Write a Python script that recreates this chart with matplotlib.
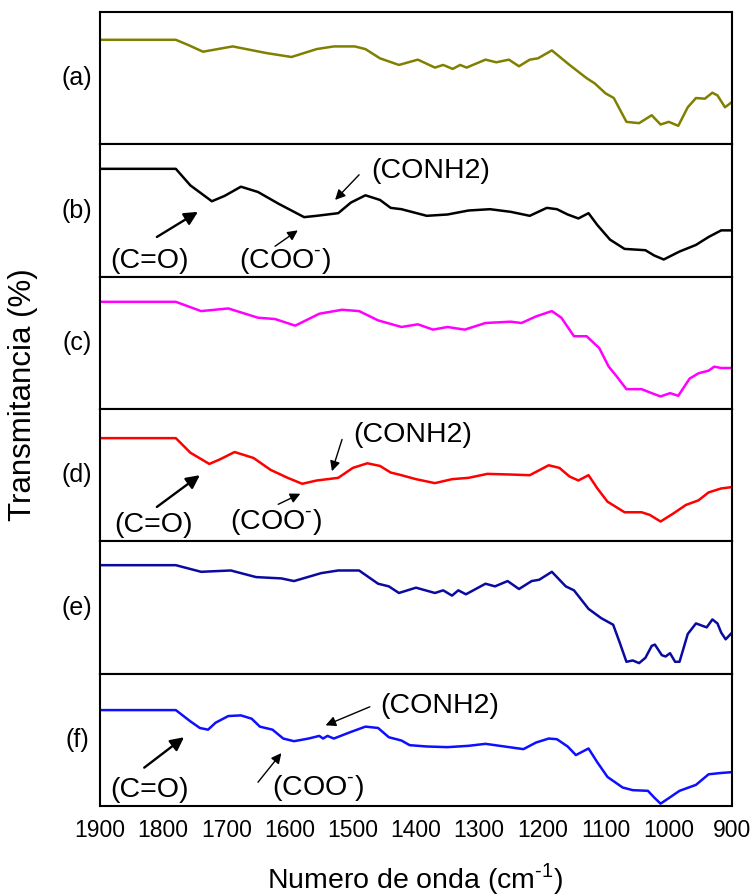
import matplotlib
matplotlib.use("Agg")
import matplotlib.pyplot as plt

plt.rcParams['font.family'] = ['Liberation Sans', 'DejaVu Sans']
plt.rcParams['mathtext.fontset'] = 'custom'
plt.rcParams['mathtext.rm'] = 'Liberation Sans'

# FTIR spectra, transmittance scaled 0-1 inside each panel
wn_a = [1900, 1780, 1760, 1737, 1690, 1637, 1597, 1557, 1530, 1497, 1480, 1457, 1427, 1397, 1370, 1357, 1342, 1330, 1320, 1290,
        1273, 1253, 1237, 1220, 1207, 1185, 1157, 1130, 1117, 1100, 1087, 1067, 1047, 1027, 1013, 1000, 985, 970, 957, 943,
        931, 923, 911, 900]
t_a = [0.79, 0.79, 0.75, 0.70, 0.74, 0.69, 0.66, 0.72, 0.74, 0.74, 0.72, 0.65, 0.60, 0.64, 0.58, 0.60, 0.57, 0.60, 0.58, 0.64,
       0.62, 0.64, 0.59, 0.64, 0.65, 0.71, 0.60, 0.50, 0.46, 0.385, 0.35, 0.17, 0.16, 0.22, 0.15, 0.17, 0.14, 0.28, 0.35, 0.345,
       0.39, 0.37, 0.28, 0.32]

wn_b = [1900, 1780, 1757, 1723, 1703, 1677, 1650, 1617, 1577, 1557, 1523, 1503, 1480, 1457, 1440, 1423, 1383, 1350, 1317, 1283,
        1250, 1220, 1193, 1177, 1160, 1143, 1127, 1113, 1093, 1070, 1037, 1023, 1008, 983, 957, 937, 917, 900]
t_b = [0.815, 0.815, 0.69, 0.57, 0.61, 0.68, 0.64, 0.55, 0.45, 0.46, 0.48, 0.56, 0.615, 0.58, 0.52, 0.51, 0.46, 0.47, 0.50, 0.51,
       0.49, 0.46, 0.52, 0.51, 0.47, 0.44, 0.48, 0.39, 0.28, 0.21, 0.20, 0.16, 0.13, 0.19, 0.24, 0.30, 0.35, 0.35]

wn_c = [1900, 1780, 1740, 1697, 1650, 1623, 1591, 1553, 1517, 1490, 1460, 1423, 1397, 1373, 1350, 1337, 1323, 1290, 1250, 1233,
        1210, 1185, 1170, 1150, 1130, 1110, 1095, 1083, 1067, 1043, 1027, 1013, 998, 985, 967, 953, 937, 928, 917, 900]
t_c = [0.81, 0.81, 0.74, 0.76, 0.69, 0.68, 0.63, 0.72, 0.75, 0.74, 0.67, 0.62, 0.64, 0.60, 0.62, 0.61, 0.60, 0.65, 0.66, 0.65,
       0.70, 0.74, 0.69, 0.55, 0.55, 0.46, 0.32, 0.25, 0.15, 0.15, 0.12, 0.095, 0.12, 0.10, 0.23, 0.27, 0.29, 0.32, 0.31, 0.31]

wn_d = [1900, 1780, 1757, 1727, 1710, 1687, 1657, 1630, 1603, 1580, 1557, 1523, 1500, 1477, 1457, 1440, 1423, 1400, 1370, 1343,
        1317, 1287, 1250, 1220, 1190, 1173, 1157, 1143, 1127, 1113, 1097, 1070, 1043, 1030, 1013, 993, 973, 953, 937, 917, 900]
t_d = [0.78, 0.78, 0.67, 0.585, 0.62, 0.675, 0.63, 0.54, 0.48, 0.435, 0.46, 0.48, 0.555, 0.59, 0.57, 0.52, 0.50, 0.47, 0.44, 0.47,
       0.48, 0.51, 0.505, 0.50, 0.575, 0.555, 0.49, 0.46, 0.50, 0.40, 0.30, 0.22, 0.22, 0.20, 0.15, 0.21, 0.275, 0.31, 0.37, 0.40, 0.41]

wn_e = [1900, 1780, 1740, 1693, 1653, 1613, 1593, 1550, 1523, 1490, 1460, 1443, 1427, 1400, 1370, 1357, 1343, 1333, 1321, 1290,
        1275, 1255, 1237, 1217, 1205, 1185, 1163, 1150, 1127, 1107, 1088, 1078, 1067, 1057, 1047, 1037, 1027, 1022, 1011, 1005,
        998, 990, 983, 970, 957, 940, 931, 923, 917, 910, 900]
t_e = [0.82, 0.82, 0.77, 0.78, 0.73, 0.72, 0.70, 0.76, 0.78, 0.78, 0.68, 0.66, 0.61, 0.65, 0.61, 0.63, 0.59, 0.63, 0.60, 0.68,
       0.66, 0.70, 0.64, 0.70, 0.71, 0.77, 0.66, 0.63, 0.49, 0.42, 0.37, 0.24, 0.09, 0.10, 0.08, 0.12, 0.21, 0.22, 0.14, 0.13,
       0.155, 0.09, 0.09, 0.30, 0.38, 0.35, 0.41, 0.38, 0.31, 0.26, 0.31]

wn_f = [1900, 1780, 1757, 1742, 1729, 1717, 1697, 1677, 1660, 1647, 1627, 1610, 1593, 1570, 1553, 1547, 1540, 1530, 1503, 1480,
        1460, 1443, 1423, 1410, 1383, 1350, 1317, 1290, 1260, 1230, 1210, 1190, 1177, 1160, 1147, 1137, 1127, 1113, 1097, 1073,
        1057, 1033, 1023, 1013, 1003, 983, 957, 937, 917, 900]
t_f = [0.725, 0.725, 0.64, 0.59, 0.577, 0.63, 0.68, 0.685, 0.66, 0.60, 0.577, 0.51, 0.49, 0.51, 0.53, 0.51, 0.53, 0.51, 0.56, 0.60,
       0.59, 0.52, 0.495, 0.46, 0.45, 0.445, 0.455, 0.47, 0.45, 0.43, 0.48, 0.51, 0.505, 0.45, 0.385, 0.41, 0.435, 0.33, 0.22, 0.14,
       0.12, 0.115, 0.064, 0.018, 0.05, 0.115, 0.16, 0.24, 0.25, 0.256]

panel_labels = ['(a)', '(b)', '(c)', '(d)', '(e)', '(f)']
colors = ['#808000', 'black', '#ff00ff', '#ff0000', '#0a0aa0', '#0f0fff']
xticks = [1900, 1800, 1700, 1600, 1500, 1400, 1300, 1200, 1100, 1000, 900]

spectra = [(wn_a, t_a), (wn_b, t_b), (wn_c, t_c), (wn_d, t_d), (wn_e, t_e), (wn_f, t_f)]

coo = '(COO$^{\\mathregular{\u2010}}$)'

# band annotations: panel index -> (text, text pos, arrow tail, arrow tip, thick)
notes = {
    1: [('(CONH2)', (1376, 0.80), (1490, 0.77), (1528, 0.58), False),
        ('(C=O)', (1821, 0.12), (1810, 0.30), (1745, 0.49), True),
        (coo, (1607, 0.12), (1623, 0.23), (1587, 0.35), False)],
    3: [('(CONH2)', (1406, 0.80), (1517, 0.77), (1533, 0.53), False),
        ('(C=O)', (1816, 0.12), (1810, 0.26), (1742, 0.50), True),
        (coo, (1622, 0.15), (1618, 0.28), (1583, 0.36), False)],
    5: [('(CONH2)', (1362, 0.755), (1473, 0.75), (1543, 0.61), False),
        ('(C=O)', (1821, 0.12), (1830, 0.29), (1767, 0.52), True),
        (coo, (1555, 0.14), (1650, 0.18), (1613, 0.40), False)],
}

fig, axes = plt.subplots(6, 1, figsize=(7.54, 8.96), dpi=100, sharex=True)
fig.subplots_adjust(left=0.1326, right=0.9708, top=0.9866, bottom=0.1004, hspace=0)

for i, ax in enumerate(axes):
    wn, t = spectra[i]
    ax.plot(wn, t, color=colors[i], lw=1.8, solid_joinstyle='round')
    ax.set_xlim(1900, 900)
    ax.set_ylim(0, 1)
    ax.set_yticks([])
    for s in ax.spines.values():
        s.set_linewidth(1.5)
    ax.tick_params(axis='x', length=0, labelsize=16.5, pad=9)
    ax.text(-0.036, 0.5, panel_labels[i], transform=ax.transAxes, ha='center', va='center', fontsize=18)
    for txt, tpos, tail, tip, thick in notes.get(i, []):
        ax.text(tpos[0], tpos[1], txt, ha='center', va='center', fontsize=20.5)
        if thick:
            ap = dict(arrowstyle='-|>', lw=1.7, color='black', mutation_scale=20, shrinkA=0, shrinkB=0)
        else:
            ap = dict(arrowstyle='-|>', lw=1, color='black', mutation_scale=15, shrinkA=0, shrinkB=0)
        ax.annotate('', xy=tip, xytext=tail, arrowprops=ap)

axes[-1].set_xticks(xticks)
fig.text(0.55, 0.019, 'Numero de onda (cm$^{\\mathregular{\u20101}}$)', ha='center', va='center', fontsize=20.5)
fig.text(0.03, 0.56, 'Transmitancia (%)', ha='center', va='center', rotation=90, fontsize=22.5)

fig.savefig('out.png', dpi=100)
